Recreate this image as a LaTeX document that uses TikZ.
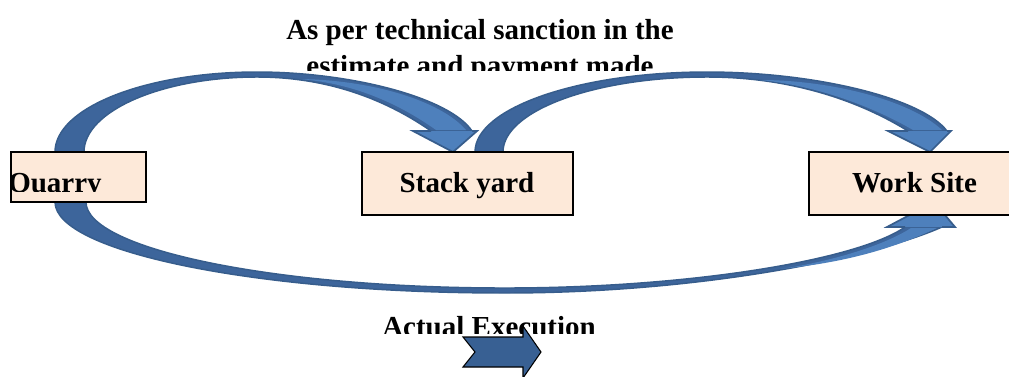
\documentclass[tikz,border=0pt]{standalone}
\usepackage{fontspec}
\setmainfont{Liberation Serif}
\definecolor{bandfill}{HTML}{3D659B}
\definecolor{bandedge}{HTML}{375D8C}
\definecolor{bandlight}{HTML}{4E80BC}
\definecolor{boxfill}{HTML}{FDE9D9}
\definecolor{blockfill}{HTML}{386093}
\begin{document}
\begin{tikzpicture}[x=0.75pt,y=-0.75pt,
  band/.style={fill=bandfill,draw=bandedge,line width=1.1pt,line join=round},
  sheen/.style={fill=bandlight},
  headfill/.style={fill=bandlight},
  headedge/.style={draw=bandedge,line width=1.3pt,line join=miter},
  stagebox/.style={draw=black,fill=boxfill,line width=1pt,inner sep=0pt},
  txt/.style={font=\fontsize{21.75pt}{25pt}\selectfont\bfseries,inner sep=0pt}]
\useasboundingbox (0,0) rectangle (1009,376);

% caption above the loops (second line cut off by its frame)
\node[txt,anchor=base] (cap1) at (480,39.5) {As per technical sanction in the};
\begin{scope}
  \clip (250,40) rectangle (720,70.5);
  \node[txt,anchor=base] (cap2) at (480,75) {estimate and payment made};
\end{scope}

% caption below the loops
\begin{scope}
  \clip (350,300) rectangle (640,333);
  \node[txt,anchor=base] (cap3) at (489,336) {Actual Execution};
\end{scope}

% loop: Quarry -> Stack yard
\path[band] (55,160) -- (55,152) .. controls (55,108) and (145,72) .. (257,72)
  .. controls (352,72) and (450,98) .. (472,131) -- (431,131)
  .. controls (398,108) and (340,77) .. (257,77)
  .. controls (162,77) and (84,111) .. (84,152) -- (84,160) -- cycle;
\path[sheen] (300,79) .. controls (360,84) and (405,108) .. (436,130) -- (466,130)
  .. controls (440,100) and (370,80) .. (300,79) -- cycle;
\path[headfill] (431,131) -- (413,131) -- (453,152) -- (477,131) -- (472,131) -- cycle;
\path[headedge] (431,131) -- (413,131) -- (453,152) -- (477,131) -- (472,131);

% loop: Stack yard -> Work Site
\path[band] (475,160) -- (475,152) .. controls (475,108) and (579,72) .. (707,72)
  .. controls (815,72) and (922,98) .. (947,131) -- (908,131)
  .. controls (871,108) and (803,77) .. (707,77)
  .. controls (594,77) and (503,111) .. (503,152) -- (503,160) -- cycle;
\path[sheen] (760,80) .. controls (820,86) and (875,108) .. (913,130) -- (942,130)
  .. controls (910,100) and (830,80) .. (760,80) -- cycle;
\path[headfill] (908,131) -- (888,131) -- (930,152) -- (951,131) -- (947,131) -- cycle;
\path[headedge] (908,131) -- (888,131) -- (930,152) -- (951,131) -- (947,131);

% loop: Quarry -> Work Site underneath
\path[band] (55,195) -- (55,202) .. controls (55,252) and (257,293) .. (505,293)
  .. controls (700,293) and (872,258) .. (942,227) -- (905,227)
  .. controls (858,260) and (690,288) .. (505,288)
  .. controls (274,288) and (86,249) .. (86,202) -- (86,195) -- cycle;
\path[sheen] (780,269) .. controls (840,260) and (888,243) .. (911,228) -- (937,228)
  .. controls (882,254) and (830,264) .. (780,269) -- cycle;
\path[headfill] (905,227) -- (887,227) -- (934,202) -- (955,227) -- (942,227) -- cycle;
\path[headedge] (905,227) -- (887,227) -- (934,202) -- (955,227) -- (942,227);

% stages
\node[stagebox,minimum width=101.25pt,minimum height=37.5pt] (quarry) at (78.5,177) {};
\node[stagebox,minimum width=158.25pt,minimum height=47.25pt] (stack) at (467.5,183.5) {};
\node[stagebox,minimum width=158.25pt,minimum height=47.25pt] (work) at (914.5,183.5) {};

\begin{scope}
  \clip (12,153) rectangle (145,191);
  \node[txt,anchor=base west] (quarrytext) at (8,192) {Quarry};
\end{scope}
\node[txt,anchor=base] (stacktext) at (467,192) {Stack yard};
\node[txt,anchor=base] (worktext) at (914.5,192) {Work Site};

% notched block arrow
\path[fill=blockfill,draw=black,line width=0.8pt,line join=miter]
  (463,337) -- (523,337) -- (523,326) -- (541,352) -- (523,378) -- (523,367)
  -- (463,367) -- (475,352) -- cycle;
\end{tikzpicture}
\end{document}
